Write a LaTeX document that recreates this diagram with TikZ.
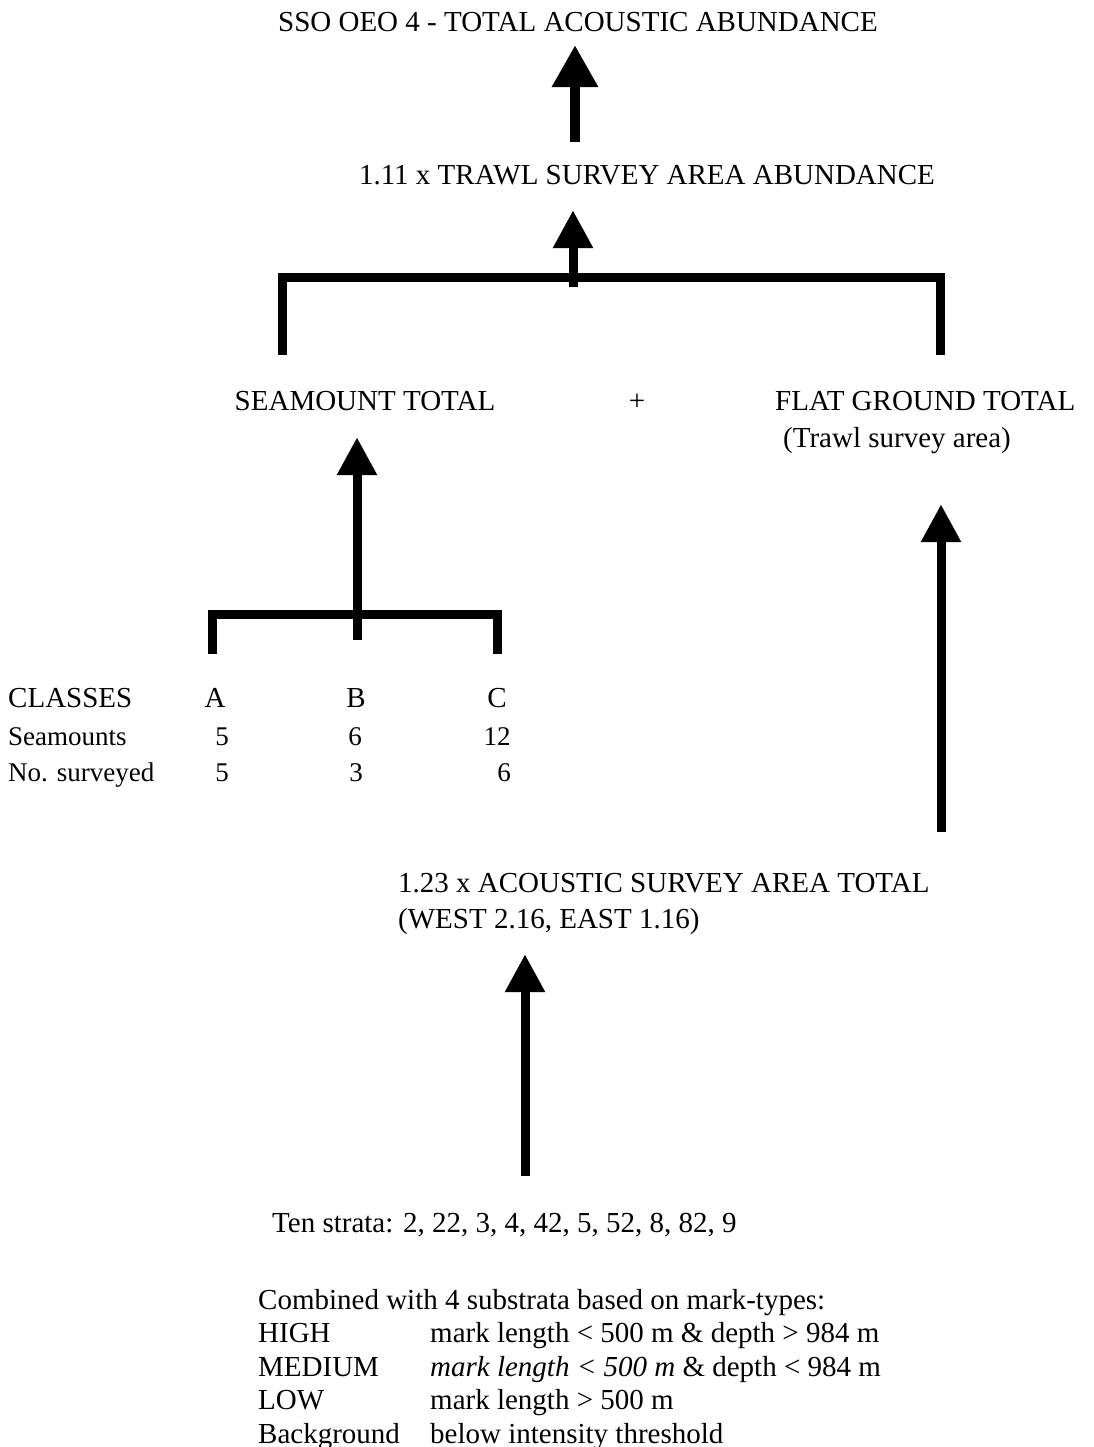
\documentclass[tikz,border=0pt]{standalone}
\usepackage{fontspec}
\setmainfont{Liberation Serif}
\usepackage{tikz}
\usetikzlibrary{arrows.meta, positioning, calc}
\newcommand{\mainsize}{\fontsize{29}{33.5}\selectfont}
\newcommand{\tabsize}{\fontsize{27}{33.5}\selectfont}

\begin{document}
\begin{tikzpicture}[
    x=1pt, y=-1pt,
    txt/.style={inner sep=0pt, text depth=0pt, anchor=base, font=\mainsize},
    txtl/.style={txt, anchor=base west},
    cell/.style={txt, font=\tabsize},
    arr/.style={-{Triangle[width=38pt, length=38pt]}, line width=9pt},
    bigarr/.style={-{Triangle[width=44pt, length=42pt]}, line width=10pt},
    brk/.style={line width=9pt}
]
\useasboundingbox (0,0) rectangle (1093,1447);

\node[txt]  (total)    at (578,32)  {SSO OEO 4 - TOTAL ACOUSTIC ABUNDANCE};
\node[txt]  (trawl)    at (647,185) {1.11 x TRAWL SURVEY AREA ABUNDANCE};
\node[txt]  (seam)     at (365,410) {SEAMOUNT TOTAL};
\node[txt]  (plus)     at (637,410) {+};
\node[txtl] (flat)     at (775,410) {FLAT GROUND TOTAL};
\node[txtl] (flatsub)  at (783,447) {(Trawl survey area)};
\node[txtl] (acou)     at (398,892) {1.23 x ACOUSTIC SURVEY AREA TOTAL};
\node[txtl] (acousub)  at (398,928) {(WEST 2.16, EAST 1.16)};
\node[txtl] (strata)   at (272,1232) {Ten strata: 2, 22, 3, 4, 42, 5, 52, 8, 82, 9};
\node[txtl] (substrata) at (258,1309) {\begin{tabular}[t]{@{}p{172pt}@{}l@{}}
  \multicolumn{2}{@{}l@{}}{Combined with 4 substrata based on mark-types:}\\
  HIGH       & mark length < 500 m \& depth > 984 m\\
  MEDIUM     & \textit{mark length < 500 m} \& depth < 984 m\\
  LOW        & mark length > 500 m\\
  Background & below intensity threshold
\end{tabular}};

\node[txtl] (classes)  at (8,707)   {CLASSES};
\node[txt]  (clA)      at (215,707) {A};
\node[txt]  (clB)      at (356,707) {B};
\node[txt]  (clC)      at (497,707) {C};
\node[txtl, font=\tabsize] (seamounts) at (8,745) {Seamounts};
\node[cell] (smA)      at (222,745) {5};
\node[cell] (smB)      at (355,745) {6};
\node[cell] (smC)      at (497,745) {12};
\node[txtl, font=\tabsize] (surveyed) at (8,781) {No. surveyed};
\node[cell] (svA)      at (222,781) {5};
\node[cell] (svB)      at (356,781) {3};
\node[cell] (svC)      at (504,781) {6};

\coordinate (t0) at (575,142);
\coordinate (j1) at (573,277);
\coordinate (j1post) at (573,287);
\coordinate (b1L) at (282,355);
\coordinate (b1R) at (940,355);
\coordinate (j2) at (357,614);
\coordinate (j2post) at (357,640);
\coordinate (b2L) at (212,654);
\coordinate (b2R) at (497,654);
\coordinate (t4) at (941,832);
\coordinate (t5) at (525,1176);

\draw[brk] (b1L) |- (j1) -| (b1R);
\draw[brk] (b2L) |- (j2) -| (b2R);

\draw[bigarr, shorten >=13pt] (t0) -- (t0 |- total.south);
\draw[arr, shorten >=25pt] (j1post) -- (j1post |- trawl.south);
\draw[arr, shorten >=27pt] (j2post) -- (j2post |- seam.south);
\draw[arr, shorten >=57pt] (t4) -- (t4 |- flatsub.south);
\draw[arr, shorten >=26pt] (t5) -- (t5 |- acousub.south);
\end{tikzpicture}
\end{document}
